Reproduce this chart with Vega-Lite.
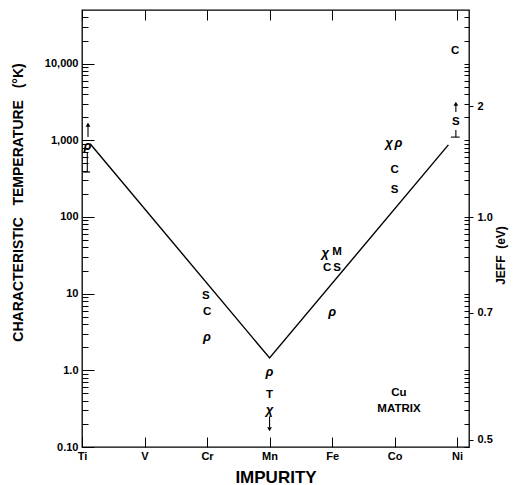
{
  "$schema": "https://vega.github.io/schema/vega-lite/v6.json",
  "width": 387,
  "height": 437,
  "autosize": "none",
  "padding": {"left": 82, "top": 10, "right": 44, "bottom": 38},
  "background": "white",
  "config": {
    "view": {"stroke": "black", "strokeWidth": 1.3},
    "font": "Liberation Sans",
    "axis": {
      "grid": false,
      "domain": false,
      "labelFont": "Liberation Sans",
      "labelFontWeight": "bold",
      "labelFontSize": 11,
      "labelColor": "black",
      "tickColor": "black",
      "tickWidth": 1,
      "titleFont": "Liberation Sans",
      "titleFontWeight": "bold",
      "titleColor": "black",
      "labelFlush": false,
      "labelOverlap": false,
      "labelBound": false
    }
  },
  "datasets": {
    "line": [
      {"x": 0.13, "T": 900},
      {"x": 3.0, "T": 1.45},
      {"x": 5.86, "T": 870}
    ],
    "letters": [
      {"x": 1.98, "T": 9.3, "t": "S"},
      {"x": 2.0, "T": 5.8, "t": "C"},
      {"x": 3.0, "T": 0.48, "t": "T"},
      {"x": 4.08, "T": 35, "t": "M"},
      {"x": 3.92, "T": 21.6, "t": "C"},
      {"x": 4.08, "T": 21.6, "t": "S"},
      {"x": 5.0, "T": 410, "t": "C"},
      {"x": 5.0, "T": 225, "t": "S"},
      {"x": 5.97, "T": 14500, "t": "C"},
      {"x": 5.98, "T": 1730, "t": "S"},
      {"x": 5.07, "T": 0.5, "t": "Cu"},
      {"x": 5.07, "T": 0.31, "t": "MATRIX"}
    ],
    "greek": [
      {"x": 0.085, "T": 830, "t": "ρ"},
      {"x": 2.0, "T": 2.7, "t": "ρ"},
      {"x": 3.0, "T": 0.95, "t": "ρ"},
      {"x": 3.0, "T": 0.3, "t": "χ"},
      {"x": 3.89, "T": 34, "t": "χ"},
      {"x": 4.0, "T": 5.8, "t": "ρ"},
      {"x": 4.91, "T": 920, "t": "χ"},
      {"x": 5.06, "T": 920, "t": "ρ"}
    ],
    "vrules": [
      {"x": 0.096, "T": 1100, "T2": 1550},
      {"x": 0.085, "T": 700, "T2": 385},
      {"x": 3.0, "T": 0.25, "T2": 0.18},
      {"x": 5.98, "T": 2330, "T2": 2900},
      {"x": 5.98, "T": 1360, "T2": 1100}
    ],
    "caps": [
      {"x": 0.02, "x2": 0.13, "T": 385},
      {"x": 5.9, "x2": 6.04, "T": 1100}
    ],
    "heads": [
      {"x": 0.096, "T": 1600, "shape": "triangle-up"},
      {"x": 3.0, "T": 0.17, "shape": "triangle-down"},
      {"x": 5.98, "T": 3000, "shape": "triangle-up"}
    ],
    "dummy": [{"x": 0, "T": 1, "J": 1}]
  },
  "layer": [
    {
      "encoding": {
        "x": {
          "field": "x", "type": "quantitative",
          "scale": {"domain": [0, 6.19], "nice": false, "zero": false},
          "axis": {
            "orient": "bottom",
            "values": [0, 1, 2, 3, 4, 5, 6],
            "labelExpr": "['Ti','V','Cr','Mn','Fe','Co','Ni'][datum.value]",
            "ticks": false,
            "labelPadding": 3,
            "title": "IMPURITY",
            "titleFontSize": 17,
            "titlePadding": 8
          }
        },
        "y": {
          "field": "T", "type": "quantitative",
          "scale": {"type": "log", "domain": [0.1, 50000], "nice": false},
          "axis": {
            "orient": "left",
            "values": [0.1, 1, 10, 100, 1000, 10000],
            "labelExpr": "datum.value < 0.5 ? '0.10' : datum.value < 5 ? '1.0' : format(datum.value, ',')",
            "ticks": false,
            "labelPadding": 4,
            "title": "CHARACTERISTIC\u00a0\u00a0\u00a0TEMPERATURE\u00a0\u00a0\u00a0(°K)",
            "titleFontSize": 14,
            "titleAngle": -90,
            "titleX": -64,
            "titleY": 192,
            "titleAlign": "center",
            "titleBaseline": "middle"
          }
        }
      },
      "layer": [
        {
          "data": {"name": "line"},
          "mark": {"type": "line", "color": "black", "strokeWidth": 1.4}
        },
        {
          "data": {"name": "vrules"},
          "mark": {"type": "rule", "color": "black", "strokeWidth": 1.1},
          "encoding": {"y2": {"field": "T2"}}
        },
        {
          "data": {"name": "caps"},
          "mark": {"type": "rule", "color": "black", "strokeWidth": 1.1},
          "encoding": {"x2": {"field": "x2"}}
        },
        {
          "data": {"name": "heads"},
          "mark": {"type": "point", "filled": true, "color": "black", "size": 22, "opacity": 1},
          "encoding": {"shape": {"field": "shape", "type": "nominal", "scale": null}}
        },
        {
          "data": {"name": "letters"},
          "mark": {"type": "text", "font": "Liberation Sans", "fontWeight": "bold", "fontSize": 11.5, "color": "black", "baseline": "middle", "align": "center"},
          "encoding": {"text": {"field": "t"}}
        },
        {
          "data": {"name": "greek"},
          "mark": {"type": "text", "font": "Liberation Sans", "fontWeight": "bold", "fontStyle": "italic", "fontSize": 13, "color": "black", "baseline": "middle", "align": "center"},
          "encoding": {"text": {"field": "t"}}
        }
      ]
    },
    {
      "data": {"name": "dummy"},
      "mark": {"type": "point", "opacity": 0},
      "encoding": {
        "x": {
          "field": "x", "type": "quantitative",
          "scale": {"domain": [0, 6.19], "nice": false, "zero": false},
          "axis": {"orient": "bottom", "values": [0, 1, 2, 3, 4, 5, 6], "labels": false, "tickSize": 10, "offset": -10, "title": null}
        },
        "y": {
          "field": "T", "type": "quantitative",
          "scale": {"type": "log", "domain": [0.1, 50000], "nice": false},
          "axis": {"orient": "left", "values": [0.1, 1, 10, 100, 1000, 10000], "labels": false, "tickSize": 12, "offset": -12, "title": null}
        }
      }
    },
    {
      "data": {"name": "dummy"},
      "mark": {"type": "point", "opacity": 0},
      "encoding": {
        "x": {
          "field": "x", "type": "quantitative",
          "scale": {"domain": [0, 6.19], "nice": false, "zero": false},
          "axis": {"orient": "top", "values": [0, 1, 2, 3, 4, 5, 6], "labels": false, "tickSize": 10, "offset": -10, "title": null}
        },
        "y": {
          "field": "T", "type": "quantitative",
          "scale": {"type": "log", "domain": [0.1, 50000], "nice": false},
          "axis": {
            "orient": "left",
            "values": [0.2, 0.3, 0.4, 0.5, 0.6, 0.7, 0.8, 0.9, 2, 3, 4, 5, 6, 7, 8, 9, 20, 30, 40, 50, 60, 70, 80, 90, 200, 300, 400, 500, 600, 700, 800, 900, 2000, 3000, 4000, 5000, 6000, 7000, 8000, 9000, 20000, 30000, 40000],
            "labels": false, "tickSize": 6, "offset": -6, "title": null
          }
        }
      }
    },
    {
      "data": {"name": "dummy"},
      "mark": {"type": "point", "opacity": 0},
      "encoding": {
        "y": {
          "field": "T", "type": "quantitative",
          "scale": {"type": "log", "domain": [0.1, 50000], "nice": false},
          "axis": {
            "orient": "right",
            "values": [0.1, 0.2, 0.3, 0.4, 0.5, 0.6, 0.7, 0.8, 0.9, 1, 2, 3, 4, 5, 6, 7, 8, 9, 10, 20, 30, 40, 50, 60, 70, 80, 90, 100, 200, 300, 400, 500, 600, 700, 800, 900, 1000, 2000, 3000, 4000, 5000, 6000, 7000, 8000, 9000, 10000, 20000, 30000, 40000],
            "labels": false, "tickSize": 5, "offset": -5, "title": null
          }
        }
      }
    },
    {
      "data": {"name": "dummy"},
      "mark": {"type": "point", "opacity": 0},
      "encoding": {
        "y": {
          "field": "J", "type": "quantitative",
          "scale": {"type": "pow", "exponent": -1, "domain": [0.4919, 14.92], "nice": false, "zero": false},
          "axis": {
            "orient": "right",
            "values": [0.5, 0.7, 1, 2],
            "labelExpr": "datum.value == 1 ? '1.0' : datum.value == 2 ? '2' : datum.value < 0.6 ? '0.5' : '0.7'",
            "tickSize": 4,
            "labelPadding": 4,
            "title": "JEFF\u00a0\u00a0(eV)",
            "titleFontSize": 12,
            "titleAngle": -90,
            "titleX": 31,
            "titleY": 245,
            "titleAlign": "center",
            "titleBaseline": "middle"
          }
        }
      }
    }
  ],
  "resolve": {"scale": {"y": "independent"}, "axis": {"x": "independent", "y": "independent"}}
}
